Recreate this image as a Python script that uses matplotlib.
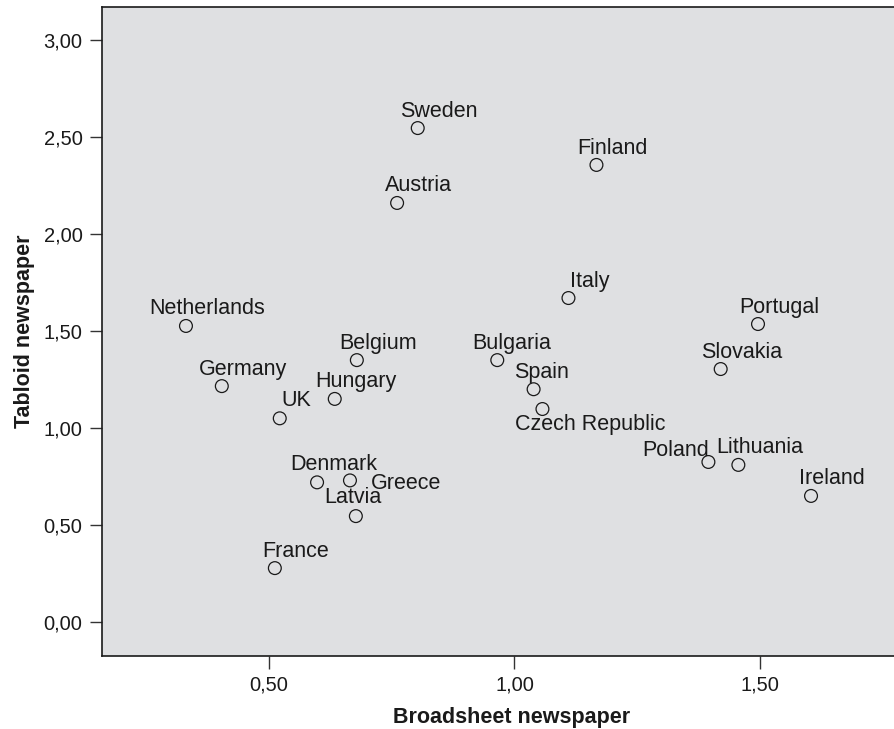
import matplotlib.pyplot as plt
from matplotlib import ticker

plt.rcParams['font.family'] = ['Liberation Sans', 'DejaVu Sans']

countries = ['Sweden', 'Finland', 'Austria', 'Italy', 'Netherlands', 'Portugal',
             'Belgium', 'Bulgaria', 'Slovakia', 'Germany', 'Spain', 'Hungary',
             'Czech Republic', 'UK', 'Poland', 'Lithuania', 'Denmark', 'Greece',
             'Latvia', 'Ireland', 'France']
broadsheet = [0.803, 1.167, 0.761, 1.110, 0.331, 1.496,
              0.679, 0.965, 1.420, 0.404, 1.039, 0.634,
              1.057, 0.522, 1.395, 1.456, 0.598, 0.665,
              0.677, 1.604, 0.512]
tabloid = [2.546, 2.356, 2.160, 1.670, 1.526, 1.536,
           1.350, 1.350, 1.304, 1.216, 1.200, 1.150,
           1.098, 1.050, 0.825, 0.810, 0.720, 0.730,
           0.546, 0.650, 0.278]

# label offsets in pixels (dx, dy), default is up-right
offsets = {'Czech Republic': (48, -15), 'Poland': (-33, 11), 'Greece': (56, -3),
           'Latvia': (-3, 19), 'Spain': (8, 17), 'Bulgaria': (14, 17),
           'Finland': (16, 16), 'Denmark': (17, 18), 'UK': (17, 18)}

fig = plt.figure(figsize=(8.95, 7.29), dpi=100)
ax = fig.add_axes([102/895, 1 - 656/729, 1 - 102/895, (656 - 7)/729])
ax.set_facecolor('#dfe0e2')

ax.scatter(broadsheet, tabloid, s=85, facecolors='none', edgecolors='#1a1a1a',
           linewidths=0.9, zorder=3)
for name, x, y in zip(countries, broadsheet, tabloid):
    dx, dy = offsets.get(name, (21, 17))
    ax.annotate(name, (x, y), xytext=(dx, dy), textcoords='offset pixels',
                ha='center', va='center', fontsize=15.5, color='#1a1a1a')

ax.set_xlim(0.16, 1.775)
ax.set_ylim(-0.175, 3.17)
ax.xaxis.set_major_locator(ticker.FixedLocator([0.5, 1.0, 1.5]))
ax.yaxis.set_major_locator(ticker.MultipleLocator(0.5))
fmt = ticker.FuncFormatter(lambda v, p: f'{v:.2f}'.replace('.', ','))
ax.xaxis.set_major_formatter(fmt)
ax.yaxis.set_major_formatter(fmt)
ax.tick_params(direction='out', length=9, width=1, color='#333333',
               labelsize=14.5, labelcolor='#1a1a1a', pad=5)
ax.spines['right'].set_visible(False)
for s in ['left', 'top', 'bottom']:
    ax.spines[s].set_color('#1a1a1a')
    ax.spines[s].set_linewidth(1.2)

ax.set_xlabel('Broadsheet newspaper', fontsize=15.5, fontweight='bold',
              color='#1a1a1a')
ax.xaxis.set_label_coords(0.516, -0.079)
ax.set_ylabel('Tabloid newspaper', fontsize=15.5, fontweight='bold',
              color='#1a1a1a', labelpad=6)

fig.savefig('out.png', dpi=100)
